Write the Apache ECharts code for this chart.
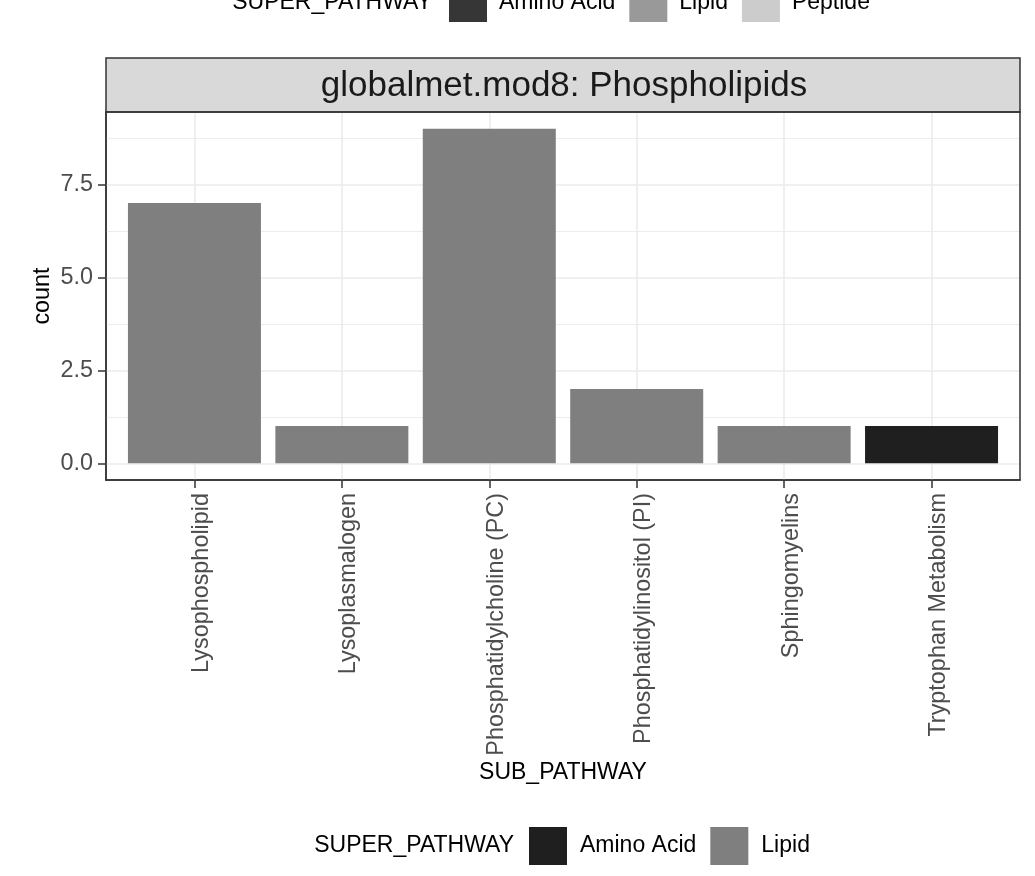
<!DOCTYPE html>
<html lang="en">
<head>
<meta charset="UTF-8">
<title>globalmet.mod8: Phospholipids</title>
<script src="https://cdn.jsdelivr.net/npm/echarts@6/dist/echarts.min.js"></script>
<style>
  html, body { margin: 0; padding: 0; background: #fff; }
  #chart { width: 1035px; height: 876px; }
</style>
</head>
<body>
<div id="chart"></div>
<script type="text/javascript">
// data
var categories = ['Lysophospholipid', 'Lysoplasmalogen', 'Phosphatidylcholine (PC)',
                  'Phosphatidylinositol (PI)', 'Sphingomyelins', 'Tryptophan Metabolism'];
var lipidCounts = [7, 1, 9, 2, 1, null];
var aminoCounts = [null, null, null, null, null, 1];
var peptideCounts = [];
var yTicks = [0, 2.5, 5, 7.5];
var yMinorTicks = [1.25, 3.75, 6.25, 8.75];

var font = '"Liberation Sans", Arial, Helvetica, sans-serif';
var xIdx = categories.map(function (c, i) { return i; });

function pairs(vals) {
  var out = [];
  vals.forEach(function (v, i) { if (v != null) out.push([i, v]); });
  return out;
}

var gridLines = []
  .concat(yMinorTicks.map(function (v) { return { yAxis: v, lineStyle: { width: 0.9 } }; }))
  .concat(yTicks.map(function (v) { return { yAxis: v, lineStyle: { width: 1.6 } }; }))
  .concat(xIdx.map(function (i) { return { xAxis: i, lineStyle: { width: 1.6 } }; }));

var dom = document.getElementById('chart');
var myChart = echarts.init(dom);

var option = {
  animation: false,
  textStyle: { fontFamily: font },
  grid: {
    left: 106, right: 15, top: 112, bottom: 396,
    containLabel: false, outerBoundsMode: 'none'
  },
  legend: [
    {
      data: ['Amino Acid', 'Lipid'],
      left: 529, top: 827, padding: 0,
      icon: 'rect', itemWidth: 38, itemHeight: 38, itemGap: 14,
      selectedMode: false,
      textStyle: { fontSize: 23, color: '#000', padding: [0, 0, 0, 8] }
    },
    {
      data: [
        { name: 'Amino Acid', itemStyle: { color: '#363636' } },
        { name: 'Lipid', itemStyle: { color: '#999999' } },
        { name: 'Peptide', itemStyle: { color: '#cccccc' } }
      ],
      left: 449, top: -16, padding: 0,
      icon: 'rect', itemWidth: 38, itemHeight: 38, itemGap: 14,
      selectedMode: false,
      textStyle: { fontSize: 23, color: '#000', padding: [0, 0, 0, 7] }
    }
  ],
  xAxis: {
    type: 'value',
    min: -0.6, max: 5.6,
    name: 'SUB_PATHWAY',
    nameLocation: 'middle',
    nameGap: 281,
    nameMoveOverlap: false,
    nameTextStyle: { fontSize: 23, color: '#000' },
    axisLine: { show: true, onZero: false, lineStyle: { color: '#333', width: 1.5 } },
    splitLine: { show: false },
    axisTick: { show: true, customValues: xIdx, length: 8, lineStyle: { color: '#333', width: 1.5 } },
    axisLabel: {
      customValues: xIdx,
      rotate: 90,
      margin: 13,
      fontSize: 23.4,
      color: '#4d4d4d',
      verticalAlign: 'top',
      lineHeight: 14,
      formatter: function (v) { return categories[Math.round(v)]; }
    }
  },
  yAxis: {
    type: 'value',
    min: -0.45, max: 9.45,
    name: 'count',
    nameLocation: 'middle',
    nameRotate: 90,
    nameGap: 52,
    nameMoveOverlap: false,
    nameTextStyle: { fontSize: 23.4, color: '#000' },
    axisLine: { show: true, onZero: false, lineStyle: { color: '#333', width: 1.5 } },
    splitLine: { show: false },
    axisTick: { show: true, customValues: yTicks, length: 8, lineStyle: { color: '#333', width: 1.5 } },
    axisLabel: {
      customValues: yTicks,
      margin: 13,
      fontSize: 23.4,
      color: '#4d4d4d',
      formatter: function (v) { return v.toFixed(1); }
    }
  },
  series: [
    {
      name: 'grid',
      type: 'line',
      data: [],
      markLine: {
        z: 1,
        silent: true,
        symbol: 'none',
        label: { show: false },
        lineStyle: { color: '#ebebeb', type: 'solid' },
        data: gridLines
      }
    },
    {
      name: 'Amino Acid',
      type: 'bar',
      stack: 'total',
      barWidth: 133,
      itemStyle: { color: '#1f1f1f' },
      data: pairs(aminoCounts)
    },
    {
      name: 'Lipid',
      type: 'bar',
      stack: 'total',
      barWidth: 133,
      itemStyle: { color: '#7f7f7f' },
      data: pairs(lipidCounts)
    },
    {
      name: 'Peptide',
      type: 'bar',
      stack: 'total',
      barWidth: 133,
      itemStyle: { color: '#cccccc' },
      data: peptideCounts
    }
  ],
  graphic: [
    // facet strip
    {
      type: 'rect', z: 5,
      shape: { x: 106, y: 58, width: 914, height: 54 },
      style: { fill: '#d9d9d9', stroke: '#333', lineWidth: 1.5 }
    },
    {
      type: 'text', z: 6, x: 564, y: 86,
      style: {
        text: 'globalmet.mod8: Phospholipids', font: '35px ' + font,
        fill: '#1a1a1a', textAlign: 'center', textVerticalAlign: 'middle'
      }
    },
    // panel border
    {
      type: 'rect', z: 10,
      shape: { x: 106, y: 112, width: 914, height: 368 },
      style: { fill: null, stroke: '#333', lineWidth: 1.5 }
    },
    // legend titles
    {
      type: 'text', x: 432, y: 3,
      style: {
        text: 'SUPER_PATHWAY', font: '23px ' + font, fill: '#000',
        textAlign: 'right', textVerticalAlign: 'middle'
      }
    },
    {
      type: 'text', x: 514, y: 846,
      style: {
        text: 'SUPER_PATHWAY', font: '23px ' + font, fill: '#000',
        textAlign: 'right', textVerticalAlign: 'middle'
      }
    }
  ]
};

if (option && typeof option === 'object') {
  myChart.setOption(option, true);
}
</script>
</body>
</html>
